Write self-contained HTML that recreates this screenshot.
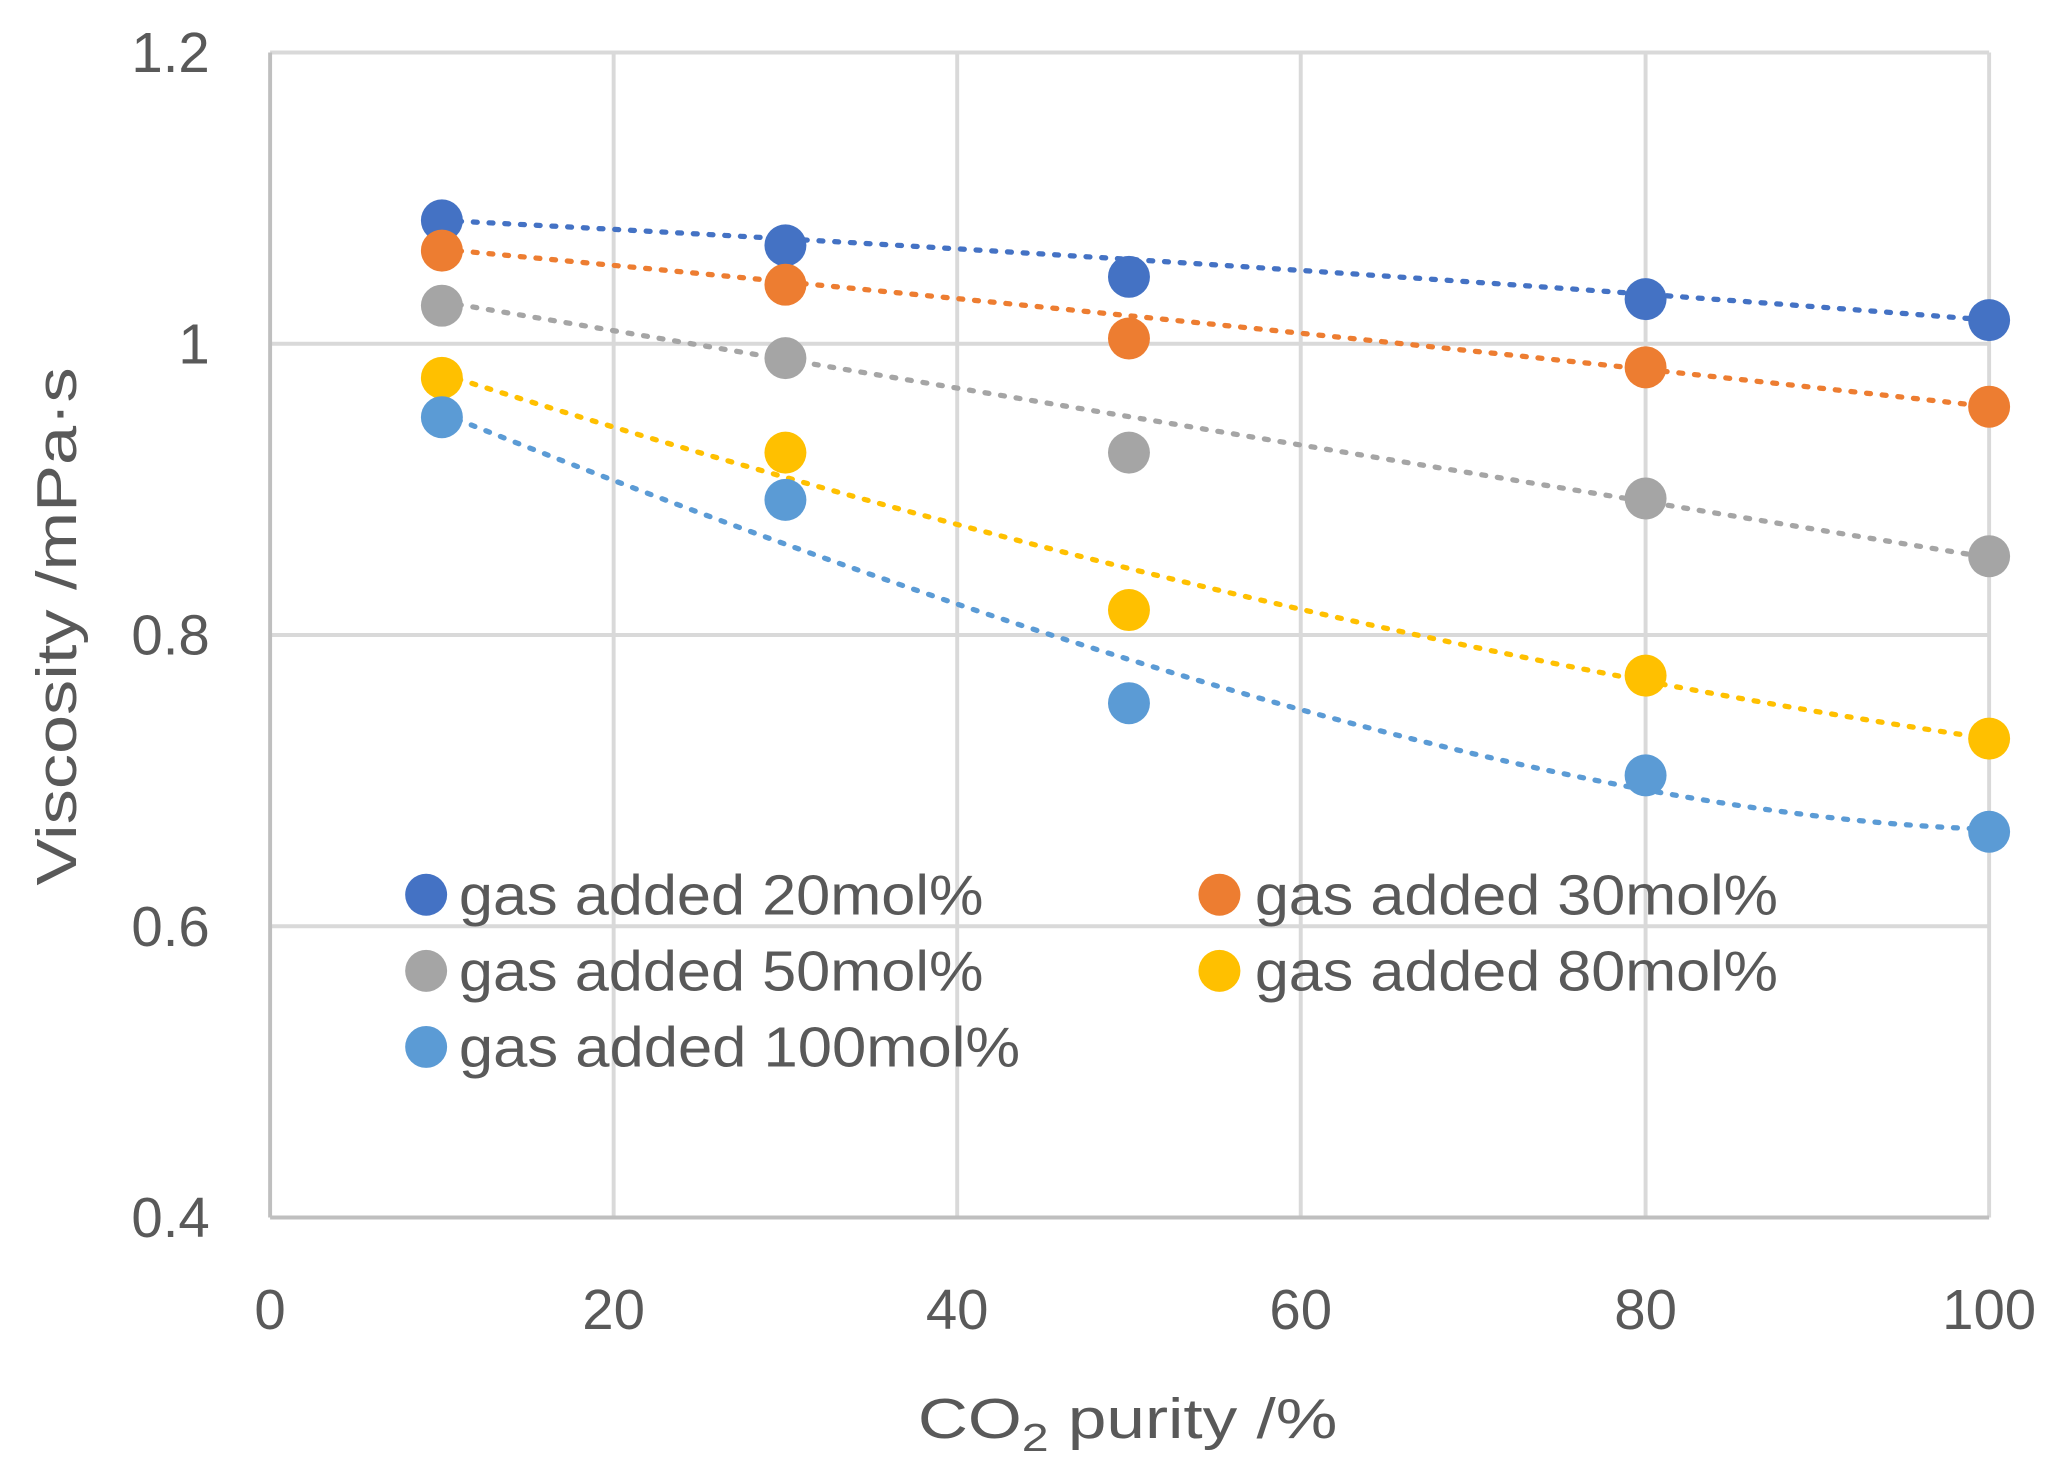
<!DOCTYPE html>
<html><head><meta charset="utf-8"><style>html,body{margin:0;padding:0;background:#fff}svg{display:block}</style></head>
<body>
<svg width="2056" height="1472" viewBox="0 0 1568 1122" preserveAspectRatio="none" xmlns="http://www.w3.org/2000/svg" font-family="Liberation Sans, DejaVu Sans, sans-serif" fill="#595959">
<g stroke="#d9d9d9" stroke-width="3">
<line x1="206" y1="40" x2="1517" y2="40"/>
<line x1="206" y1="262" x2="1517" y2="262"/>
<line x1="206" y1="484" x2="1517" y2="484"/>
<line x1="206" y1="706" x2="1517" y2="706"/>
<line x1="468" y1="40" x2="468" y2="928"/>
<line x1="730" y1="40" x2="730" y2="928"/>
<line x1="992" y1="40" x2="992" y2="928"/>
<line x1="1255" y1="40" x2="1255" y2="928"/>
<line x1="1517" y1="40" x2="1517" y2="928"/>
</g>
<g stroke="#bfbfbf" stroke-width="3">
<line x1="206" y1="40" x2="206" y2="928"/>
<line x1="206" y1="928" x2="1517" y2="928"/>
</g>
<g fill="none" stroke-width="4" stroke-dasharray="3 9" stroke-linecap="round">
<path d="M337 168 Q 930 198 1517 244" stroke="#4472C4"/>
<path d="M337 190 Q 930 245 1517 310" stroke="#ED7D31"/>
<path d="M337 230 Q 900 325 1517 425" stroke="#A5A5A5"/>
<path d="M337 285 Q 950 480 1517 563" stroke="#FFC000"/>
<path d="M337 315 Q 1100 620 1517 632" stroke="#5B9BD5"/>
</g>
<g fill="#4472C4"><circle cx="337" cy="168" r="16"/><circle cx="599" cy="187" r="16"/><circle cx="861" cy="211" r="16"/><circle cx="1255" cy="228" r="16"/><circle cx="1517" cy="244" r="16"/></g>
<g fill="#ED7D31"><circle cx="337" cy="191" r="16"/><circle cx="599" cy="217" r="16"/><circle cx="861" cy="258" r="16"/><circle cx="1255" cy="280" r="16"/><circle cx="1517" cy="310" r="16"/></g>
<g fill="#A5A5A5"><circle cx="337" cy="233" r="16"/><circle cx="599" cy="273" r="16"/><circle cx="861" cy="345" r="16"/><circle cx="1255" cy="380" r="16"/><circle cx="1517" cy="424" r="16"/></g>
<g fill="#FFC000"><circle cx="337" cy="288" r="16"/><circle cx="599" cy="345" r="16"/><circle cx="861" cy="465" r="16"/><circle cx="1255" cy="515" r="16"/><circle cx="1517" cy="563" r="16"/></g>
<g fill="#5B9BD5"><circle cx="337" cy="318" r="16"/><circle cx="599" cy="381" r="16"/><circle cx="861" cy="536" r="16"/><circle cx="1255" cy="591" r="16"/><circle cx="1517" cy="634" r="16"/></g>
<g font-size="43" text-anchor="end">
<text x="160" y="55">1.2</text><text x="160" y="277">1</text><text x="160" y="499">0.8</text><text x="160" y="721">0.6</text><text x="160" y="943">0.4</text>
</g>
<g font-size="43" text-anchor="middle">
<text x="206" y="1013">0</text><text x="468" y="1013">20</text><text x="730" y="1013">40</text><text x="992" y="1013">60</text><text x="1255" y="1013">80</text><text x="1517" y="1013">100</text>
</g>
<text x="700" y="1096" font-size="43" textLength="320" lengthAdjust="spacingAndGlyphs">CO<tspan font-size="30" dy="10">2</tspan><tspan dy="-10"> purity /%</tspan></text>
<text transform="translate(58 675) rotate(-90)" font-size="43" textLength="395" lengthAdjust="spacingAndGlyphs">Viscosity /mPa·s</text>
<g font-size="43">
<circle cx="325" cy="682" r="16" fill="#4472C4"/><text x="350" y="697" textLength="400" lengthAdjust="spacingAndGlyphs">gas added 20mol%</text>
<circle cx="930" cy="682" r="16" fill="#ED7D31"/><text x="957" y="697" textLength="399" lengthAdjust="spacingAndGlyphs">gas added 30mol%</text>
<circle cx="325" cy="740" r="16" fill="#A5A5A5"/><text x="350" y="755" textLength="400" lengthAdjust="spacingAndGlyphs">gas added 50mol%</text>
<circle cx="930" cy="740" r="16" fill="#FFC000"/><text x="957" y="755" textLength="399" lengthAdjust="spacingAndGlyphs">gas added 80mol%</text>
<circle cx="325" cy="798" r="16" fill="#5B9BD5"/><text x="350" y="813" textLength="428" lengthAdjust="spacingAndGlyphs">gas added 100mol%</text>
</g>
</svg>
</body></html>
